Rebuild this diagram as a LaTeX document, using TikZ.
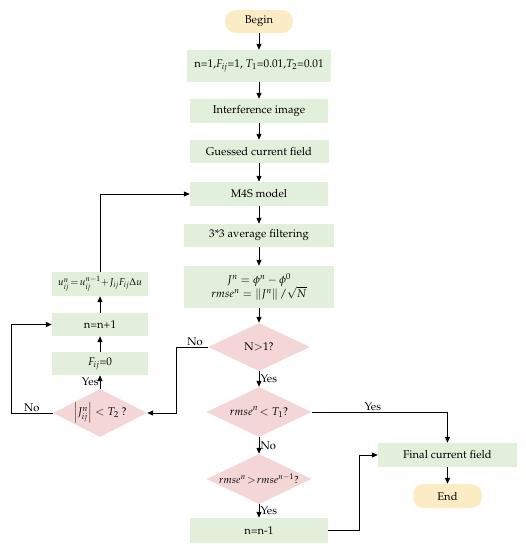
\documentclass[tikz,border=0pt]{standalone}
\usepackage[T1]{fontenc}
\usepackage{mathpazo}
\usepackage{amsmath}
\usetikzlibrary{arrows.meta,shapes.geometric}
\definecolor{boxgreen}{RGB}{226,239,218}
\definecolor{diapink}{RGB}{243,214,213}
\definecolor{termyellow}{RGB}{252,236,198}
\tikzset{
  box/.style={rectangle,fill=boxgreen,inner sep=0pt,align=center},
  term/.style={rectangle,rounded corners=11pt,fill=termyellow,inner sep=0pt},
  decide/.style={diamond,fill=diapink,inner sep=0pt,aspect=2},
  flow/.style={line width=1pt,-{Triangle[length=6pt,width=5pt]}},
  lbl/.style={inner sep=1pt},
}

\begin{document}
\begin{tikzpicture}[x=1pt,y=-1pt,font=\fontsize{11.2}{13}\selectfont]
      \useasboundingbox (0,0) rectangle (526,550);
      % main column
      \node[term,minimum width=68pt,minimum height=23pt] (B) at (259,21.5) {Begin};
      \node[box,minimum width=144pt,minimum height=32pt] (I) at (259,66) {n=1,$F_{ij}$=1,\ $T_1$=0.01,$T_2$=0.01};
      \node[box,minimum width=138pt,minimum height=24pt] (IM) at (259,111) {Interference image};
      \node[box,minimum width=139pt,minimum height=23pt] (G) at (259,151.5) {Guessed current field};
      \node[box,minimum width=138pt,minimum height=24pt] (M) at (259,194) {M4S model};
      \node[box,minimum width=150pt,minimum height=23pt] (F) at (259,235.5) {3*3 average filtering};
      \node[box,minimum width=150pt,minimum height=42pt] (J) at (259,287)
        {$J^n=\phi^n-\phi^0$\\[-1pt] $rmse^n=\left\|J^n\right\|/\sqrt{N}$};
      \node[decide,minimum width=102pt,minimum height=48pt] (N) at (259,347) {N$>$1?};
      \node[decide,minimum width=105pt,minimum height=50pt] (R) at (259,412) {$rmse^n\!<T_1$?};
      \node[decide,minimum width=105pt,minimum height=50pt] (S) at (259,479) {\fontsize{10.5}{12}\selectfont$rmse^n\!>\!rmse^{n-1}$?};
      \node[box,minimum width=138pt,minimum height=25pt] (D) at (259,530.5) {n=n-1};
      % right column
      \node[box,minimum width=139pt,minimum height=24pt] (FC) at (447.5,455) {Final current field};
      \node[term,minimum width=69pt,minimum height=24pt] (E) at (447.5,496) {End};
      % left column
      \node[box,minimum width=96pt,minimum height=24pt,font=\fontsize{10}{12}\selectfont] (U) at (100,284)
        {$u_{ij}^n\!=\!u_{ij}^{n-1}\!+\!J_{ij}F_{ij}\Delta u$};
      \node[box,minimum width=96pt,minimum height=23pt] (P) at (100,324.5) {n=n+1};
      \node[box,minimum width=96pt,minimum height=23pt] (Z) at (100,363.5) {$F_{ij}$=0};
      \node[decide,minimum width=94pt,minimum height=48pt] (T) at (100,413) {$\left|J_{ij}^n\right|<T_2$ ?};

      \draw[flow] (B) -- (I);
      \draw[flow] (I) -- (IM);
      \draw[flow] (IM) -- (G);
      \draw[flow] (G) -- (M);
      \draw[flow] (M) -- (F);
      \draw[flow] (F) -- (J);
      \draw[flow] (J) -- (N);
      \draw[flow] (N) -- node[lbl,right] {Yes} (R);
      \draw[flow] (R) -- node[lbl,right] {No} (S);
      \draw[flow] (S) -- node[lbl,right] {Yes} (D);
      \draw[flow] (FC) -- (E);
      \draw[flow] (R.east) -- node[lbl,above,pos=0.45] {Yes} (447.5,412) -- (FC.north);
      \draw[flow] (D.east) -- (359,530.5) -- (359,455) -- (FC.west);
      \draw[flow] (N.west) -- node[lbl,above,pos=0.4] {No} (176,347) -- (176,413) -- (T.east);
      \draw[flow] (T) -- node[lbl,left] {Yes} (Z);
      \draw[flow] (Z) -- (P);
      \draw[flow] (P) -- (U);
      \draw[flow] (T.west) -- node[lbl,above] {No} (11,413) -- (11,324.5) -- (P.west);
      \draw[flow] (U.north) -- (100,194) -- (M.west);
    \end{tikzpicture}
\end{document}
